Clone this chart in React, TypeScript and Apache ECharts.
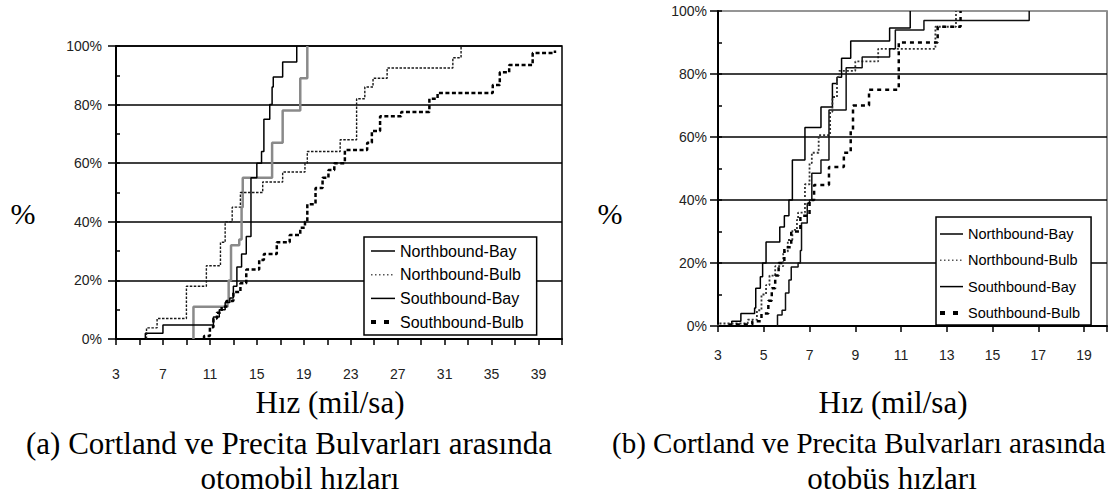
import React, { useEffect, useRef } from 'react';
import * as echarts from 'echarts';

// ---------- shared ----------
const seriesNames = ['Northbound-Bay', 'Northbound-Bulb', 'Southbound-Bay', 'Southbound-Bulb'];
const percentTicks = [0, 20, 40, 60, 80, 100];

// ---------- (a) automobile speeds: [speed (mph), cumulative %] ----------
const carTickLabels = [3, 7, 11, 15, 19, 23, 27, 31, 35, 39];
const carNbBay = [
  [5.5, 0], [5.5, 2], [7.0, 4.8], [11.3, 7.5], [11.8, 10], [12.3, 12.5], [12.7, 14], [13.0, 18],
  [13.3, 24.6], [13.7, 29], [14.1, 35], [14.5, 55], [15.0, 60], [15.4, 64], [15.6, 75], [16.1, 80],
  [16.3, 86], [16.4, 89.4], [17.2, 94.5], [18.4, 100],
];
const carNbBulb = [
  [5.6, 0], [5.6, 3.8], [6.5, 7], [9.0, 18], [10.7, 25], [11.9, 33], [12.3, 40], [12.9, 45],
  [13.6, 50], [15.5, 53.6], [17.2, 57], [19.1, 60], [19.3, 64], [22.1, 68], [23.5, 82], [24.2, 86],
  [24.9, 89], [26.1, 92.5], [31.7, 96], [32.4, 100],
];
const carSbBay = [
  [9.6, 0], [9.6, 11], [12.5, 13], [12.6, 20], [12.8, 32], [13.5, 34], [13.7, 45], [13.8, 55],
  [16.3, 67], [17.2, 78], [18.7, 89], [19.3, 100],
];
const carSbBulb = [
  [10.5, 0], [10.5, 1], [11.0, 4], [11.3, 7], [11.6, 9], [12.0, 11], [12.4, 13], [13.0, 16],
  [13.6, 19], [14.1, 23.7], [15.2, 27], [15.6, 29], [16.7, 33], [17.8, 35.5], [18.7, 38], [19.1, 40],
  [19.3, 46], [20.0, 51.5], [20.6, 55], [21.1, 57.7], [21.6, 60], [22.5, 64.5], [24.4, 67], [24.8, 71],
  [25.5, 76], [27.3, 77.5], [29.7, 82], [30.4, 84], [35.1, 86.7], [35.7, 91], [36.5, 93.5],
  [38.5, 97.6], [40.4, 98.5],
];

// ---------- (b) bus speeds: [speed (mph), cumulative %] ----------
const busTickLabels = [3, 5, 7, 9, 11, 13, 15, 17, 19];
const busNbBay = [
  [3.6, 0], [3.6, 1.5], [4.0, 4], [4.6, 5.7], [4.65, 12], [4.85, 15.6], [4.95, 20], [5.1, 26.7],
  [5.7, 31.4], [5.9, 35], [6.1, 40], [6.25, 52.7], [6.8, 63], [7.5, 69.5], [8.0, 77], [8.2, 79],
  [8.4, 85], [8.8, 90.5], [10.5, 94.6], [11.4, 100],
];
const busNbBulb = [
  [3.0, 0], [3.0, 0.8], [4.3, 2], [4.7, 5], [4.9, 10], [5.1, 13], [5.25, 16], [5.5, 19],
  [5.85, 23.6], [6.05, 27.3], [6.25, 30.5], [6.45, 33.7], [6.5, 36], [6.8, 45], [7.0, 51.7],
  [7.1, 55], [7.4, 60.6], [7.9, 68], [8.0, 72.7], [8.2, 79], [8.3, 81], [9.0, 84], [10.0, 88],
  [12.5, 95], [13.4, 100],
];
const busSbBay = [
  [5.55, 0], [5.6, 3.5], [5.8, 5], [5.95, 10.5], [6.1, 14.6], [6.2, 18.7], [6.5, 20], [6.6, 24],
  [6.65, 32.7], [6.9, 39], [7.0, 40], [7.1, 48.5], [7.5, 52.7], [7.85, 68.6], [8.6, 82], [9.3, 85.4],
  [10.5, 88], [10.75, 94], [12.0, 97], [16.6, 100],
];
const busSbBulb = [
  [3.5, 0], [3.5, 0.5], [4.5, 1.5], [4.9, 4], [5.2, 8], [5.35, 12], [5.5, 16], [5.65, 20],
  [5.9, 25], [6.2, 30], [6.6, 35], [7.0, 40], [7.2, 44.8], [7.85, 50.5], [8.5, 55], [8.8, 62],
  [8.9, 70], [9.6, 75], [10.9, 90], [12.6, 95], [13.6, 100],
];

const SANS = '"Liberation Sans", Arial, sans-serif';
const SERIF = '"Liberation Serif", "Times New Roman", serif';

const carStyles: any[] = [
  { color: '#000', width: 1.5, type: 'solid' },
  { color: '#1a1a1a', width: 1.4, type: [2.5, 1.5] },
  { color: '#8a8a8a', width: 2.5, type: 'solid' },
  { color: '#000', width: 2.5, type: [4, 2.5] },
];
const busStyles: any[] = [
  { color: '#000', width: 1.5, type: 'solid' },
  { color: '#333', width: 1.8, type: [2, 2] },
  { color: '#111', width: 1.5, type: 'solid' },
  { color: '#000', width: 2.5, type: [4, 4] },
];
const legendLineStyles: any[] = [
  { color: '#000', width: 1.5, type: 'solid' },
  { color: '#555', width: 1.5, type: [1.5, 2.5] },
  { color: '#000', width: 1.5, type: 'solid' },
  { color: '#000', width: 4, type: [5, 8] },
];

function xAxis(grid: number, min: number, max: number, labels: number[], margin: number) {
  return {
    type: 'value', gridIndex: grid, min, max, interval: 2,
    axisLine: { show: true, onZero: false, lineStyle: { color: '#000', width: 2 } },
    axisTick: { show: true, length: 6, lineStyle: { color: '#000', width: 1.5 } },
    axisLabel: {
      margin, fontSize: 14, color: '#222', fontFamily: SANS,
      formatter: (v: number) => (labels.includes(Math.round(v * 100) / 100) ? String(v) : ''),
      showMinLabel: true, showMaxLabel: true, hideOverlap: false,
    },
    splitLine: { show: false },
  };
}
function yAxisMain(grid: number, margin: number, topColor: string) {
  return {
    type: 'value', gridIndex: grid, min: 0, max: 100, interval: 20,
    axisLine: { show: true, lineStyle: { color: '#000', width: 2 } },
    axisTick: { show: true, length: 8, lineStyle: { color: '#000', width: 1.5 } },
    axisLabel: {
      margin, fontSize: 14, color: '#222', fontFamily: SANS,
      formatter: (v: number) => (percentTicks.includes(v) ? v + '%' : ''),
    },
    splitLine: {
      show: true,
      lineStyle: { color: ['#000', '#000', '#000', '#000', '#000', topColor], width: 1.5 },
    },
  };
}
function yAxisMinor(grid: number) {
  return {
    type: 'value', gridIndex: grid, min: 0, max: 100, interval: 10, position: 'left',
    axisLine: { show: false },
    axisTick: { show: true, inside: true, length: 4, lineStyle: { color: '#000', width: 1.5 } },
    axisLabel: { show: false },
    splitLine: { show: false },
  };
}
function legend(left: number, top: number, fontSize: number, gap: number, padding: number[], itemWidth: number) {
  return {
    show: true, orient: 'vertical', left, top, padding, itemGap: gap, itemWidth, itemHeight: 14,
    selectedMode: false, backgroundColor: '#fff', borderColor: '#000', borderWidth: 1.5, borderRadius: 0,
    itemStyle: { opacity: 0 },
    textStyle: { fontSize, fontFamily: SANS, color: '#000', lineHeight: 16 },
    data: seriesNames.map((name, i) => ({ name, lineStyle: legendLineStyles[i], itemStyle: { opacity: 0 } })),
  };
}

const carData = [carNbBay, carNbBulb, carSbBay, carSbBulb];
const busData = [busNbBay, busNbBulb, busSbBay, busSbBulb];

const series: any[] = [];
seriesNames.forEach((name, i) => {
  series.push({
    name, type: 'line', step: 'end', symbol: 'none', xAxisIndex: 0, yAxisIndex: 0, z: 5 + (i === 2 ? 0 : 1),
    data: carData[i], lineStyle: carStyles[i], itemStyle: { color: carStyles[i].color },
  });
});
seriesNames.forEach((name, i) => {
  series.push({
    name, type: 'line', step: 'end', symbol: 'none', xAxisIndex: 1, yAxisIndex: 2, z: 5,
    data: busData[i], lineStyle: busStyles[i], itemStyle: { color: busStyles[i].color },
  });
});

function txt(x: number, y: number, text: string, size: number, align = 'center') {
  return {
    type: 'text', x, y, silent: true,
    style: { text, font: `${size}px ${SERIF}`, fill: '#000', align, verticalAlign: 'middle' },
  };
}

const option: any = {
  animation: false,
  backgroundColor: '#fff',
  grid: [
    { left: 116, top: 46, width: 446, height: 293, show: true, borderColor: '#000', borderWidth: 1.5, backgroundColor: 'transparent' },
    { left: 718, top: 11, width: 391, height: 315, show: true, borderColor: '#666', borderWidth: 1.5, backgroundColor: 'transparent' },
  ],
  xAxis: [xAxis(0, 3, 41, carTickLabels, 28), xAxis(1, 3, 20, busTickLabels, 22)],
  yAxis: [yAxisMain(0, 14, '#000'), yAxisMinor(0), yAxisMain(1, 11, '#999'), yAxisMinor(1)],
  legend: [
    legend(364, 237, 16, 7.7, [6, 13, 5, 5], 24),
    legend(936, 217, 14.5, 10.3, [9, 11, 4, 2], 23),
  ],
  series,
  graphic: [
    txt(23, 213, '%', 30),
    txt(610, 213, '%', 30),
    txt(330, 402, 'Hız (mil/sa)', 31),
    txt(893, 402, 'Hız (mil/sa)', 31),
    txt(289, 443, '(a) Cortland ve Precita Bulvarları arasında', 31),
    txt(300, 478, 'otomobil hızları', 31),
    txt(612, 443, '(b) Cortland ve Precita Bulvarları arasında', 29, 'left'),
    txt(892, 478, 'otobüs hızları', 31),
  ],
};

export default function App() {
  const ref = useRef<HTMLDivElement>(null);
  useEffect(() => {
    document.body.style.margin = '0';
    const chart = echarts.init(ref.current!, null, { renderer: 'svg' });
    chart.setOption(option);
    return () => chart.dispose();
  }, []);
  return <div ref={ref} style={{ width: 1110, height: 498, background: '#fff', overflow: 'hidden' }} />;
}
